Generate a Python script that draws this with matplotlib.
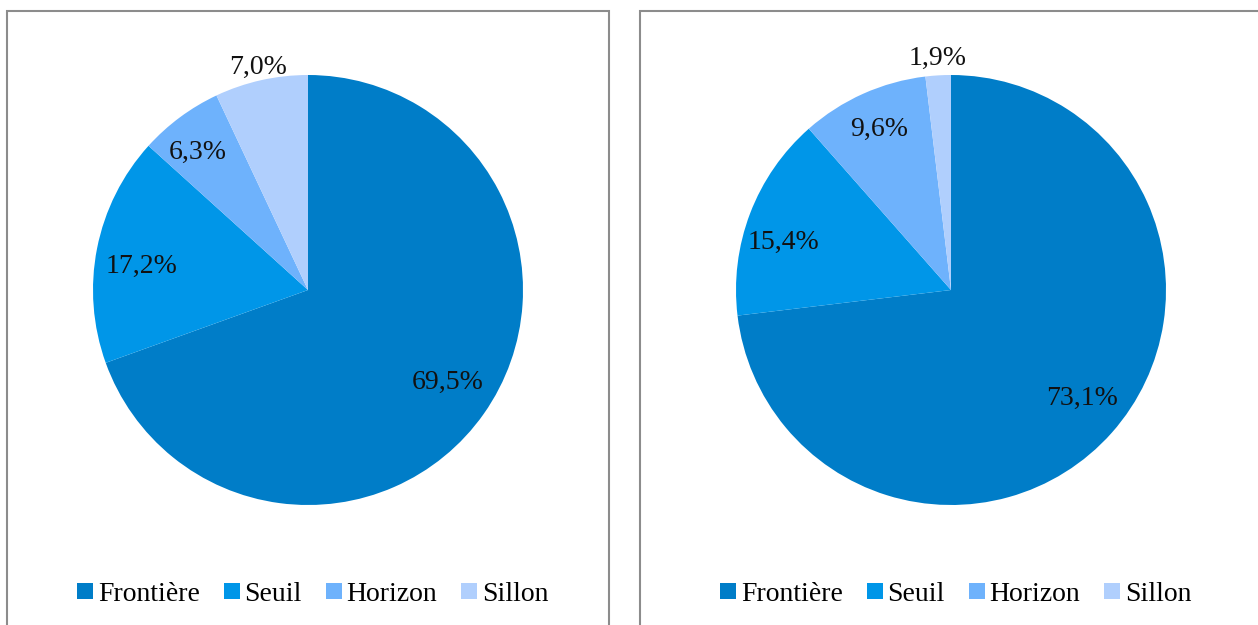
import matplotlib
matplotlib.use("Agg")
import matplotlib.pyplot as plt
from matplotlib.patches import Rectangle
from matplotlib.lines import Line2D
import numpy as np

categories = ["Frontière", "Seuil", "Horizon", "Sillon"]
left_values = [69.5, 17.2, 6.3, 7.0]
right_values = [73.1, 15.4, 9.6, 1.9]
left_labels = ["69,5%", "17,2%", "6,3%", "7,0%"]
right_labels = ["73,1%", "15,4%", "9,6%", "1,9%"]
colors = ["#007DC8", "#0096E8", "#6EB2FC", "#B0CFFD"]

W, H = 1258, 625
fig = plt.figure(figsize=(W / 100, H / 100), dpi=100)
plt.rcParams['font.family'] = ['Liberation Serif', 'DejaVu Serif']
FS = 20

def px_axes(cx, cy, r):
    return fig.add_axes([(cx - r) / W, (H - (cy + r)) / H, 2 * r / W, 2 * r / H])

def draw_pie(cx, cy, values, labels, label_r, label_da):
    ax = px_axes(cx, cy, 215)
    wedges, _ = ax.pie(values, colors=colors, startangle=90, counterclock=False,
                       radius=1, wedgeprops=dict(linewidth=0))
    ax.set_xlim(-1, 1)
    ax.set_ylim(-1, 1)
    ax.set_aspect('auto')
    ax.axis('off')
    for w, lab, lr, da in zip(wedges, labels, label_r, label_da):
        ang = np.deg2rad((w.theta1 + w.theta2) / 2 + da)
        ax.text(lr * np.cos(ang), lr * np.sin(ang), lab, ha='center', va='center',
                fontsize=FS, color='#111111', clip_on=False)
    return ax

draw_pie(308, 290, left_values, left_labels, [0.78, 0.78, 0.82, 1.06], [1.5, 3, 2, 0])
draw_pie(951, 290, right_values, right_labels, [0.79, 0.81, 0.82, 1.08], [2, 5, 0, 0])

# boxes
for x0, x1 in [(7, 609), (640, 1262)]:
    fig.patches.append(Rectangle((x0 / W, -0.05), (x1 - x0) / W, (H - 11) / H + 0.05,
                                 transform=fig.transFigure, fill=False,
                                 edgecolor='#8c8c8c', linewidth=1.5))

handles = [Line2D([], [], marker='s', linestyle='none', markersize=11,
                  markerfacecolor=c, markeredgewidth=0) for c in colors]
for cx in [313, 956]:
    fig.legend(handles, categories, loc='center', bbox_to_anchor=(cx / W, 1 - 594 / H),
               ncol=4, frameon=False, fontsize=FS, handlelength=0.55, handletextpad=0.18,
               columnspacing=0.88, borderpad=0)

fig.savefig("out.png", dpi=100)
